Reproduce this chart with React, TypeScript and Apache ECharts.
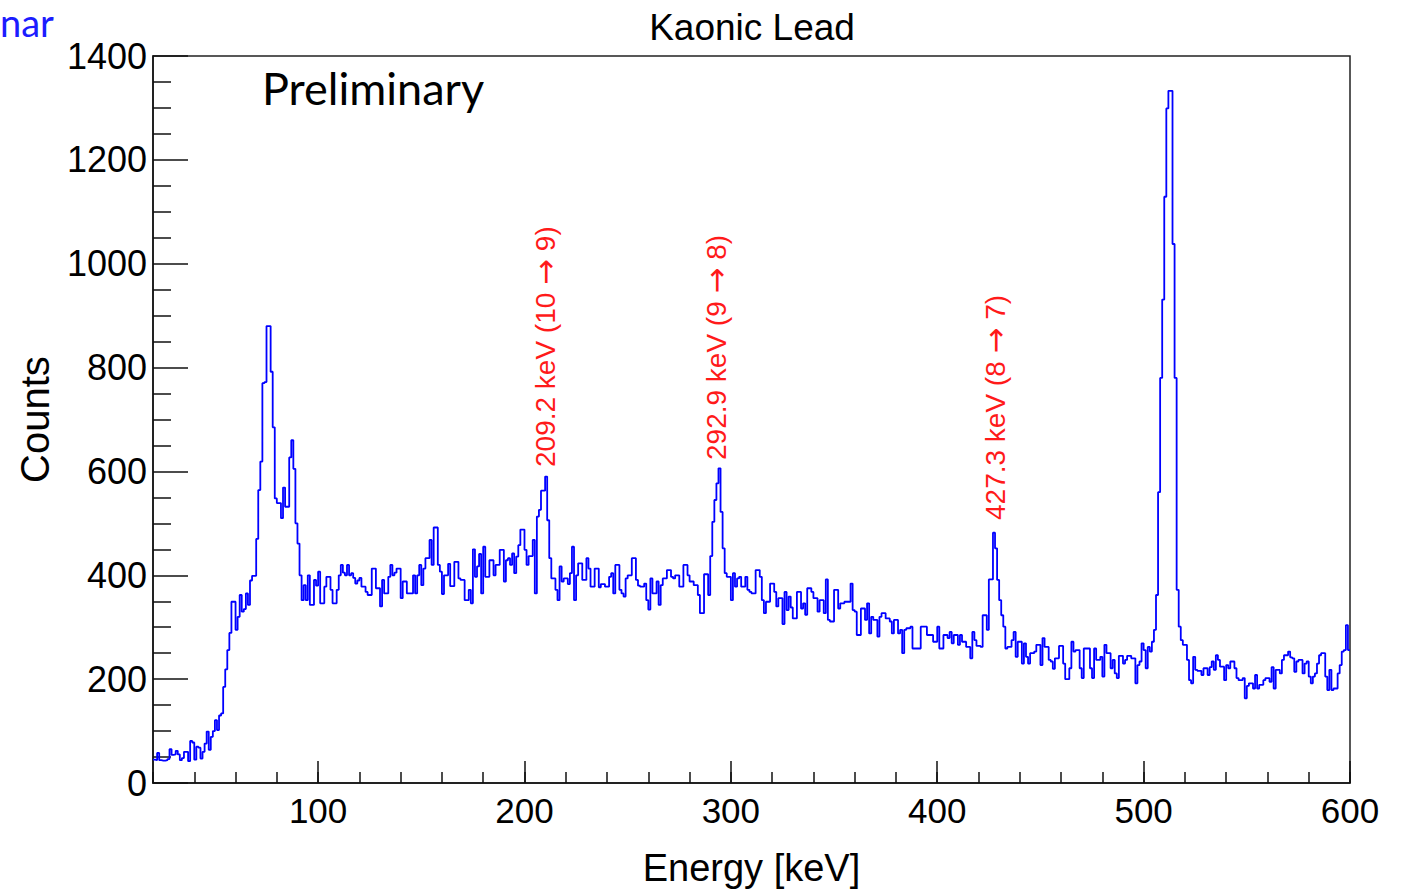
import React, { useEffect, useRef } from "react";
import * as echarts from "echarts";

// Histogram: 1 keV bins starting at 20 keV
const binStart = 20;
const binWidth = 1;

const counts020 = [
  45, 44, 58, 44, 43, 43, 44, 46, 65, 54, 55, 62, 55, 44, 48, 60, 60, 42, 81, 78,
  45, 70, 68, 47, 60, 76, 99, 64, 89, 100, 121, 102, 130, 134, 185, 219, 256, 289, 349, 349,
  295, 320, 362, 330, 335, 365, 343, 390, 399, 399, 470, 564, 619, 770, 772, 880, 880, 792, 685, 548,
  539, 539, 510, 569, 532, 532, 627, 660, 605, 500, 461, 400, 352, 381, 352, 400, 343, 343, 391, 380,
];
const counts100 = [
  407, 346, 346, 378, 397, 397, 372, 346, 346, 372, 400, 420, 405, 400, 420, 400, 404, 395, 384, 390,
  395, 378, 378, 368, 362, 362, 413, 413, 375, 375, 340, 391, 365, 365, 397, 420, 400, 405, 413, 413,
  356, 388, 388, 365, 365, 365, 400, 365, 400, 420, 381, 413, 433, 433, 468, 420, 492, 492, 420, 407,
  364, 400, 400, 422, 379, 379, 426, 426, 394, 391, 391, 352, 352, 372, 346, 450, 397, 417, 441, 365,
  455, 397, 397, 429, 429, 400, 420, 420, 449, 449, 388, 429, 433, 420, 442, 404, 436, 458, 488, 488,
];
const counts200 = [
  449, 420, 437, 437, 468, 365, 513, 526, 563, 563, 590, 506, 433, 394, 394, 372, 352, 417, 388, 394,
  394, 383, 404, 455, 352, 400, 423, 423, 391, 391, 433, 413, 378, 378, 413, 413, 377, 383, 383, 378,
  378, 397, 404, 365, 420, 420, 372, 365, 359, 394, 400, 400, 433, 433, 391, 380, 378, 378, 384, 352,
  334, 394, 365, 365, 388, 343, 381, 394, 394, 410, 410, 397, 394, 400, 400, 378, 378, 420, 420, 400,
  388, 388, 381, 381, 362, 327, 327, 402, 402, 362, 437, 503, 545, 577, 606, 522, 452, 404, 397, 397,
];
const counts300 = [
  352, 404, 378, 394, 397, 378, 378, 397, 372, 368, 365, 365, 410, 410, 397, 352, 327, 349, 349, 384,
  384, 368, 340, 356, 356, 306, 368, 333, 359, 338, 317, 317, 368, 368, 336, 346, 324, 375, 375, 368,
  356, 356, 330, 352, 352, 327, 392, 314, 311, 311, 372, 372, 336, 346, 346, 349, 349, 349, 384, 333,
  330, 285, 285, 336, 336, 314, 346, 288, 320, 314, 314, 282, 320, 327, 327, 317, 317, 311, 288, 314,
  314, 288, 295, 250, 295, 298, 298, 301, 259, 259, 259, 259, 301, 301, 301, 285, 285, 285, 272, 272,
];
const counts400 = [
  301, 259, 259, 285, 285, 279, 291, 269, 285, 285, 266, 285, 272, 272, 262, 262, 240, 291, 275, 264,
  264, 262, 323, 323, 295, 392, 392, 482, 452, 391, 352, 323, 301, 259, 262, 262, 275, 291, 243, 272,
  272, 230, 269, 243, 230, 250, 250, 253, 266, 266, 227, 279, 262, 262, 237, 234, 220, 240, 240, 264,
  264, 230, 200, 200, 221, 272, 253, 256, 256, 221, 202, 259, 259, 259, 221, 202, 259, 237, 237, 243,
  205, 266, 250, 250, 221, 237, 211, 202, 245, 245, 230, 237, 245, 245, 240, 240, 192, 227, 234, 269,
];
const counts500 = [
  256, 221, 262, 253, 272, 295, 362, 560, 780, 931, 1129, 1299, 1333, 1333, 1038, 780, 372, 301, 275, 266,
  266, 237, 198, 192, 243, 218, 216, 216, 208, 221, 221, 208, 223, 234, 218, 246, 237, 224, 224, 198,
  227, 221, 234, 234, 221, 202, 198, 198, 202, 163, 187, 192, 192, 182, 208, 182, 189, 189, 198, 202,
  202, 195, 223, 182, 218, 218, 211, 237, 246, 246, 253, 242, 240, 214, 234, 237, 237, 211, 230, 234,
  205, 192, 205, 211, 230, 246, 250, 250, 205, 179, 218, 179, 182, 182, 211, 227, 253, 256, 304, 256,
];

const xMajorTicks = [100, 200, 300, 400, 500, 600];

const peakLabels = [
  { energy: "209.2 keV", transition: ["10", "9"], x: 545, y: 467 },
  { energy: "292.9 keV", transition: ["9", "8"], x: 716, y: 460 },
  { energy: "427.3 keV", transition: ["8", "7"], x: 995, y: 520 },
];

const counts = [
  ...counts020,
  ...counts100,
  ...counts200,
  ...counts300,
  ...counts400,
  ...counts500,
];

export default function App() {
  const ref = useRef<HTMLDivElement>(null);

  useEffect(() => {
    if (!ref.current) return;
    const chart = echarts.init(ref.current, undefined, { renderer: "svg" });

    const stepData: number[][] = [];
    counts.forEach((c, i) => {
      const x0 = binStart + i * binWidth;
      stepData.push([x0, c]);
      stepData.push([x0 + binWidth, c]);
    });

    const font = "Liberation Sans";
    const axisColor = "#111";

    chart.setOption({
      animation: false,
      backgroundColor: "#fff",
      title: {
        text: "Kaonic Lead",
        left: 747,
        top: 4,
        textAlign: "center",
        textStyle: {
          fontFamily: font,
          fontSize: 37,
          fontWeight: "normal",
          color: "#000",
        },
      },
      grid: {
        left: 153,
        right: 51,
        top: 56,
        bottom: 107,
        outerBoundsMode: "none",
        containLabel: false,
        show: true,
        borderColor: "#222",
        borderWidth: 1.5,
        backgroundColor: "transparent",
      },
      xAxis: [
        {
          type: "value",
          min: 20,
          max: 600,
          interval: 20,
          position: "bottom",
          name: "Energy [keV]",
          nameLocation: "middle",
          nameGap: 66,
          nameTextStyle: { fontFamily: font, fontSize: 38, color: "#000" },
          axisLine: { show: true, lineStyle: { color: axisColor, width: 1.5 } },
          axisTick: {
            show: true,
            inside: true,
            length: 11,
            lineStyle: { color: axisColor, width: 1.5 },
          },
          axisLabel: {
            fontFamily: font,
            fontSize: 35,
            color: "#000",
            margin: 10,
            formatter: (v: number) => (v % 100 === 0 ? String(v) : ""),
          },
          splitLine: { show: false },
        },
        {
          type: "value",
          min: 20,
          max: 600,
          position: "bottom",
          axisLine: { show: false },
          axisTick: {
            show: true,
            inside: true,
            length: 22,
            customValues: xMajorTicks,
            lineStyle: { color: axisColor, width: 1.5 },
          },
          axisLabel: { show: false },
          splitLine: { show: false },
        },
      ],
      yAxis: {
        type: "value",
        min: 0,
        max: 1400,
        interval: 200,
        name: "Counts",
        nameLocation: "middle",
        nameGap: 98,
        nameRotate: 90,
        nameTextStyle: { fontFamily: font, fontSize: 40, color: "#000" },
        axisLine: { show: true, lineStyle: { color: axisColor, width: 1.5 } },
        axisTick: {
          show: true,
          inside: true,
          length: 35,
          lineStyle: { color: axisColor, width: 1.5 },
        },
        minorTick: {
          show: true,
          splitNumber: 4,
          length: 18,
          lineStyle: { color: axisColor, width: 1.5 },
        },
        axisLabel: {
          fontFamily: font,
          fontSize: 36,
          color: "#000",
          margin: 6,
          formatter: (v: number) => String(v),
        },
        splitLine: { show: false },
        minorSplitLine: { show: false },
      },
      series: [
        {
          type: "line",
          xAxisIndex: 0,
          data: stepData,
          showSymbol: false,
          symbol: "none",
          lineStyle: { color: "#0000ff", width: 1.8 },
          silent: true,
        },
      ],
      graphic: [
        {
          type: "text",
          x: 0,
          y: 22,
          style: {
            text: "nar",
            fill: "#1c1cff",
            font: "38px Lato",
            align: "left",
            verticalAlign: "middle",
          },
        },
        {
          type: "text",
          x: 262,
          y: 88,
          style: {
            text: "Preliminary",
            fill: "#000",
            font: "45px Lato",
            align: "left",
            verticalAlign: "middle",
          },
        },
        ...peakLabels.map((p) => ({
          type: "text",
          x: p.x,
          y: p.y,
          rotation: Math.PI / 2,
          style: {
            text: `${p.energy} (${p.transition[0]} {a|\u2192} ${p.transition[1]})`,
            fill: "#ff1a1a",
            font: `28px "${font}"`,
            align: "left",
            verticalAlign: "middle",
            rich: {
              a: {
                fontFamily: "DejaVu Sans",
                fontSize: 31,
                fill: "#ff1a1a",
                color: "#ff1a1a",
              },
            },
          },
        })),
      ],
    });

    return () => {
      chart.dispose();
    };
  }, []);

  return (
    <div
      ref={ref}
      style={{ position: "fixed", left: 0, top: 0, width: 1401, height: 890 }}
    />
  );
}
